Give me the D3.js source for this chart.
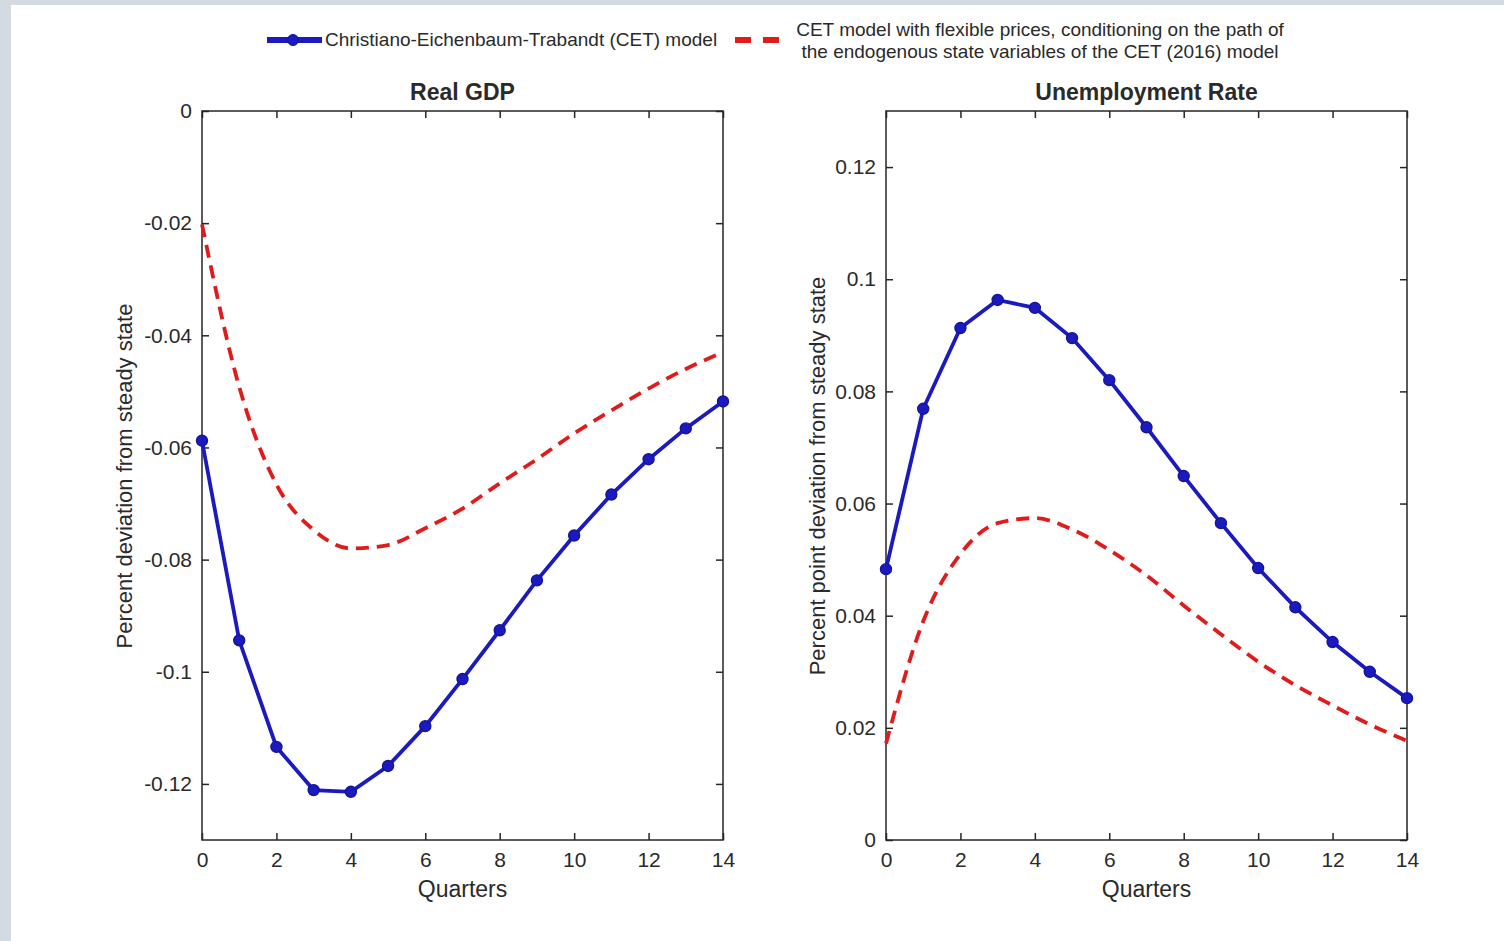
<!DOCTYPE html>
<html>
<head>
<meta charset="utf-8">
<script src="https://cdn.jsdelivr.net/npm/d3@7"></script>
<style>
  html, body { margin: 0; padding: 0; background: #d3dae2; }
  svg { display: block; }
  text { font-family: "Liberation Sans", Arial, sans-serif; fill: #2a2a2a; }
</style>
</head>
<body>
<svg id="chart" width="1504" height="941"></svg>
<script>
// Quarters after the shock
const quarters = [0, 1, 2, 3, 4, 5, 6, 7, 8, 9, 10, 11, 12, 13, 14]
const xTicks = [0, 2, 4, 6, 8, 10, 12, 14]

// Real GDP, percent deviation from steady state
const gdpCET = [-0.0588, -0.0944, -0.1134, -0.1211, -0.1214, -0.1168, -0.1097, -0.1013, -0.0926, -0.0837, -0.0757, -0.0684, -0.0621, -0.0566, -0.0518]
const gdpFlex = [-0.0202, -0.0492, -0.0666, -0.0747, -0.0780, -0.0774, -0.0744, -0.0709, -0.0664, -0.0621, -0.0575, -0.0534, -0.0495, -0.0460, -0.0430]
const gdpTicks = [0, -0.02, -0.04, -0.06, -0.08, -0.1, -0.12]

// Unemployment rate, percent point deviation from steady state
const unempCET = [0.0483, 0.0769, 0.0913, 0.0963, 0.0949, 0.0895, 0.0820, 0.0736, 0.0649, 0.0565, 0.0485, 0.0415, 0.0353, 0.0300, 0.0253]
const unempFlex = [0.0172, 0.0390, 0.0510, 0.0565, 0.0574, 0.0554, 0.0517, 0.0472, 0.0418, 0.0367, 0.0318, 0.0276, 0.0240, 0.0206, 0.0177]
const unempTicks = [0, 0.02, 0.04, 0.06, 0.08, 0.1, 0.12]

const legendLabels = [
  'Christiano-Eichenbaum-Trabandt (CET) model',
  ['CET model with flexible prices, conditioning on the path of',
    'the endogenous state variables of the CET (2016) model']
]

const BLUE = '#1a1abf'
const RED = '#e01b1b'
const AXIS = '#262626'

const svg = d3.select('#chart')

// white sheet over the grey page
svg.append('rect')
  .attr('x', 11).attr('y', 5)
  .attr('width', 1504 - 11).attr('height', 941 - 5)
  .attr('fill', '#ffffff')

const fmt = v => (v === 0 ? '0' : String(+v.toFixed(2)))

/**
 * Draws one boxed panel with its two series.
 */
function drawPanel (opts) {
  const { left, top, width, height } = opts
  const g = svg.append('g').attr('transform', `translate(${left},${top})`)

  const x = d3.scaleLinear().domain([0, 14]).range([0, width])
  const y = d3.scaleLinear().domain(opts.yDomain).range([height, 0])

  // box
  g.append('rect')
    .attr('width', width).attr('height', height)
    .attr('fill', 'none')
    .attr('stroke', AXIS)
    .attr('stroke-width', 1.5)

  // axes with inward ticks, mirrored on top and right
  const axisStyle = sel => {
    sel.select('.domain').remove()
    sel.selectAll('.tick line').attr('stroke', AXIS).attr('stroke-width', 1.5)
    sel.selectAll('.tick text')
      .style('font-family', '"Liberation Sans", Arial, sans-serif')
      .style('font-size', '21px')
      .attr('fill', '#2a2a2a')
  }
  g.append('g').attr('transform', `translate(0,${height})`)
    .call(d3.axisBottom(x).tickValues(xTicks).tickSize(-7).tickPadding(12).tickFormat(fmt))
    .call(axisStyle)
  g.append('g')
    .call(d3.axisTop(x).tickValues(xTicks).tickSize(-7).tickFormat(''))
    .call(axisStyle)
  g.append('g')
    .call(d3.axisLeft(y).tickValues(opts.yTicks).tickSize(-7).tickPadding(10).tickFormat(fmt))
    .call(axisStyle)
  g.append('g').attr('transform', `translate(${width},0)`)
    .call(d3.axisRight(y).tickValues(opts.yTicks).tickSize(-7).tickFormat(''))
    .call(axisStyle)

  // flexible price line, dashed
  g.append('path')
    .datum(quarters.map((q, i) => [q, opts.flex[i]]))
    .attr('fill', 'none')
    .attr('stroke', RED)
    .attr('stroke-width', 3.8)
    .attr('stroke-dasharray', '13 8')
    .attr('d', d3.line().x(d => x(d[0])).y(d => y(d[1])).curve(d3.curveMonotoneX))

  // CET line with markers
  const cet = quarters.map((q, i) => [q, opts.cet[i]])
  g.append('path')
    .datum(cet)
    .attr('fill', 'none')
    .attr('stroke', BLUE)
    .attr('stroke-width', 3.8)
    .attr('d', d3.line().x(d => x(d[0])).y(d => y(d[1])))
  g.selectAll('.marker')
    .data(cet)
    .enter()
    .append('circle')
    .attr('class', 'marker')
    .attr('cx', d => x(d[0]))
    .attr('cy', d => y(d[1]))
    .attr('r', 5.5)
    .attr('fill', BLUE)
    .attr('stroke', '#14149c')
    .attr('stroke-width', 1.4)

  // titles
  g.append('text')
    .attr('x', width / 2).attr('y', -11)
    .attr('text-anchor', 'middle')
    .style('font-size', '23px')
    .style('font-weight', 'bold')
    .text(opts.title)
  g.append('text')
    .attr('x', width / 2).attr('y', height + 57)
    .attr('text-anchor', 'middle')
    .style('font-size', '23px')
    .attr('fill', '#3a3a3a')
    .text('Quarters')
  g.append('text')
    .attr('transform', `translate(${opts.yLabelX},${opts.yLabelY}) rotate(-90)`)
    .attr('text-anchor', 'middle')
    .style('font-size', '22px')
    .attr('fill', '#3a3a3a')
    .text(opts.yLabel)
}

drawPanel({
  left: 202, top: 111, width: 521, height: 729,
  yDomain: [-0.13, 0], yTicks: gdpTicks,
  cet: gdpCET, flex: gdpFlex,
  title: 'Real GDP',
  yLabel: 'Percent deviation from steady state',
  yLabelX: -70, yLabelY: 365
})

drawPanel({
  left: 886, top: 111, width: 521, height: 729,
  yDomain: [0, 0.13], yTicks: unempTicks,
  cet: unempCET, flex: unempFlex,
  title: 'Unemployment Rate',
  yLabelX: -61, yLabelY: 365,
  yLabel: 'Percent point deviation from steady state'
})

// legend
const legend = svg.append('g')
legend.append('line')
  .attr('x1', 267).attr('x2', 322).attr('y1', 40).attr('y2', 40)
  .attr('stroke', BLUE).attr('stroke-width', 6)
legend.append('circle')
  .attr('cx', 293).attr('cy', 40).attr('r', 5.5)
  .attr('fill', BLUE).attr('stroke', '#14149c')
legend.append('text')
  .attr('x', 325).attr('y', 46)
  .style('font-size', '19px')
  .text(legendLabels[0])
legend.append('line')
  .attr('x1', 735).attr('x2', 779).attr('y1', 40).attr('y2', 40)
  .attr('stroke', RED).attr('stroke-width', 6)
  .attr('stroke-dasharray', '16 12')
legend.selectAll('.flex-label')
  .data(legendLabels[1])
  .enter()
  .append('text')
  .attr('class', 'flex-label')
  .attr('x', 1040)
  .attr('y', (d, i) => 36 + i * 22)
  .attr('text-anchor', 'middle')
  .style('font-size', '19px')
  .text(d => d)
</script>
</body>
</html>
